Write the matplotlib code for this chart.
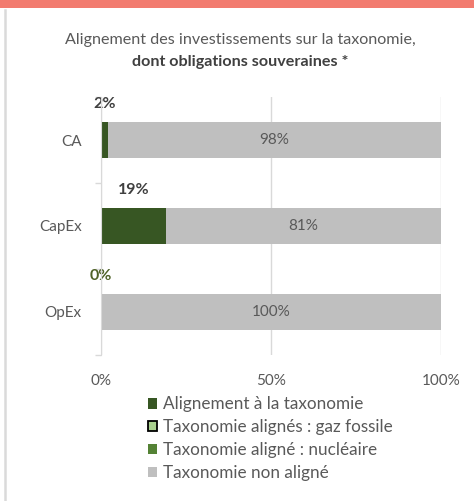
import matplotlib
matplotlib.use("Agg")
import matplotlib.pyplot as plt
from matplotlib.patches import Rectangle, Patch
from matplotlib.lines import Line2D

plt.rcParams['font.family'] = ['Lato', 'DejaVu Sans']

categories = ["CA", "CapEx", "OpEx"]
aligned = [2, 19, 0]
gas = [0, 0, 0]
nuclear = [0, 0, 0]
not_aligned = [98, 81, 100]
x_ticks = [0, 50, 100]
x_tick_labels = ["0%", "50%", "100%"]

legend_labels = ["Alignement à la taxonomie",
                 "Taxonomie alignés : gaz fossile",
                 "Taxonomie aligné : nucléaire",
                 "Taxonomie non aligné"]

c_aligned = "#375623"
c_gas = "#A9D08E"
c_nuc = "#548235"
c_non = "#BFBFBF"
txt = "#595959"
grid = "#D9D9D9"

W, H = 474, 501
fig = plt.figure(figsize=(W / 100, H / 100), dpi=100)
fig.patch.set_facecolor("white")

# top band and left border
fig.patches.append(Rectangle((0, 1 - 8 / H), 1, 8 / H, transform=fig.transFigure,
                             facecolor="#F27B6F", edgecolor="none", zorder=0))
fig.lines.append(Line2D([5 / W, 5 / W], [0, 1 - 10 / H], transform=fig.transFigure,
                        color="#DADADA", lw=1.8))

ax = fig.add_axes([101 / W, 1 - 355 / H, 340 / W, 258 / H])
ypos = list(range(len(categories)))
h = 0.41
left = [0] * len(categories)
ax.barh(ypos, aligned, height=h, left=left, color=c_aligned, zorder=3)
left = [l + v for l, v in zip(left, aligned)]
ax.barh(ypos, gas, height=h, left=left, color=c_gas, zorder=3)
left = [l + v for l, v in zip(left, gas)]
ax.barh(ypos, nuclear, height=h, left=left, color=c_nuc, zorder=3)
left = [l + v for l, v in zip(left, nuclear)]
ax.barh(ypos, not_aligned, height=h, left=left, color=c_non, zorder=3)

for i, (a, n, l) in enumerate(zip(aligned, not_aligned, left)):
    col = "#404040" if a > 0 else "#4F6228"
    ax.text(a / 2, i - 0.42, f"{a}%", ha="center", va="center",
            fontsize=11.5, fontweight="bold", color=col, zorder=4)
    ax.text(l + n / 2, i, f"{n}%", ha="center", va="center",
            fontsize=11, color=txt, zorder=4)

ax.set_xlim(0, 100)
ax.set_ylim(len(categories) - 0.5, -0.5)
ax.set_yticks(ypos)
ax.set_yticklabels(categories)
ax.set_yticks([i - 0.5 for i in range(len(categories) + 1)], minor=True)
ax.tick_params(axis="y", which="major", length=0, pad=14, labelsize=11, labelcolor=txt)
ax.tick_params(axis="y", which="minor", length=4, color=grid, width=1)
ax.set_xticks(x_ticks)
ax.set_xticklabels(x_tick_labels)
ax.tick_params(axis="x", length=0, pad=14, labelsize=11, labelcolor=txt)
ax.grid(axis="x", color=grid, lw=1, zorder=0)
for s in ["top", "right", "bottom"]:
    ax.spines[s].set_visible(False)
ax.spines["left"].set_color(grid)
ax.spines["left"].set_zorder(5)

fig.text(0.5 + 3 / W, 1 - 40 / H, "Alignement des investissements sur la taxonomie,",
         ha="center", va="center", fontsize=11.6, color=txt)
fig.text(0.5 + 3 / W, 1 - 62 / H, "dont obligations souveraines *",
         ha="center", va="center", fontsize=11.6, color="#404040", fontweight="bold")

handles = [Patch(facecolor=c_aligned, edgecolor="none"),
           Patch(facecolor=c_gas, edgecolor="black", linewidth=1.3),
           Patch(facecolor=c_nuc, edgecolor="none"),
           Patch(facecolor=c_non, edgecolor="none")]
leg = fig.legend(handles, legend_labels, loc="upper left",
                 bbox_to_anchor=(148 / W, 1 - 396.5 / H), frameon=False,
                 fontsize=12.3, handlelength=0.55, handleheight=0.55,
                 handletextpad=0.35, labelspacing=0.4, borderpad=0,
                 borderaxespad=0)
for t in leg.get_texts():
    t.set_color(txt)

fig.savefig("out.png", dpi=100, facecolor="white")
